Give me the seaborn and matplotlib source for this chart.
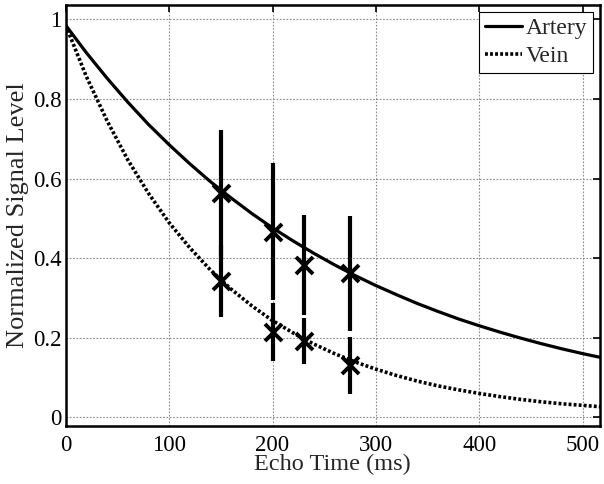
import matplotlib
matplotlib.use("Agg")
import matplotlib.pyplot as plt
import seaborn as sns
import pandas as pd

# Fitted decay curves
t_curve = [0, 20, 40, 60, 80, 100, 120, 140, 160, 180, 200, 220, 240, 260,
           280, 300, 320, 340, 360, 380, 400, 420, 440, 460, 480, 500, 520]
artery_curve = [0.985, 0.916, 0.852, 0.792, 0.736, 0.685, 0.637, 0.592, 0.551,
                0.512, 0.476, 0.443, 0.412, 0.383, 0.356, 0.331, 0.308, 0.286,
                0.266, 0.247, 0.230, 0.214, 0.199, 0.185, 0.172, 0.160, 0.149]
vein_curve = [0.985, 0.856, 0.745, 0.647, 0.563, 0.489, 0.426, 0.370, 0.322,
              0.280, 0.243, 0.212, 0.184, 0.160, 0.139, 0.121, 0.105, 0.091,
              0.079, 0.069, 0.060, 0.052, 0.045, 0.039, 0.034, 0.030, 0.026]

# Measured points with error bars
te = [150, 200, 230, 275]
artery_mean = [0.563, 0.466, 0.383, 0.362]
artery_err = [0.160, 0.172, 0.125, 0.145]
vein_mean = [0.343, 0.215, 0.192, 0.131]
vein_err = [0.090, 0.073, 0.058, 0.072]

x_ticks = [0, 100, 200, 300, 400, 500]
y_ticks = [0, 0.2, 0.4, 0.6, 0.8, 1.0]
y_tick_labels = ["0", "0.2", "0.4", "0.6", "0.8", "1"]

sns.set_style("white")
plt.rcParams["font.family"] = "serif"
plt.rcParams["font.serif"] = ["Liberation Serif", "Times New Roman", "DejaVu Serif"]

fig = plt.figure(figsize=(6.04, 4.84), dpi=100)
ax = fig.add_axes([0.1088, 0.1205, 0.8846, 0.8692])

curves = pd.DataFrame({"t": t_curve, "Artery": artery_curve, "Vein": vein_curve})

sns.lineplot(data=curves, x="t", y="Artery", ax=ax, color="black", lw=2.3,
             label="Artery", zorder=3)
sns.lineplot(data=curves, x="t", y="Vein", ax=ax, color="black", lw=2.6,
             linestyle=(0, (0.8, 0.6)), label="Vein", zorder=3)

ax.errorbar(te, artery_mean, yerr=artery_err, fmt="none", ecolor="black",
            elinewidth=3.0, capsize=0, zorder=4)
ax.errorbar(te, vein_mean, yerr=vein_err, fmt="none", ecolor="black",
            elinewidth=3.0, capsize=0, zorder=4)

pts = pd.DataFrame({"t": te + te, "y": artery_mean + vein_mean})
sns.scatterplot(data=pts, x="t", y="y", ax=ax, marker="x", s=150, color="black",
                linewidth=2.8, zorder=5, legend=False)

ax.set_xlim(0, 516.7)
ax.set_ylim(-0.021, 1.036)
ax.set_xticks(x_ticks)
ax.set_yticks(y_ticks)
ax.set_yticklabels(y_tick_labels)
ax.tick_params(axis="both", direction="in", length=5, width=1.2, labelsize=16.5,
               top=True, right=True, colors="black")
ax.tick_params(axis="x", pad=7)
ax.tick_params(axis="y", pad=3)
ax.grid(True, linestyle=(0, (1.5, 1.5)), color="#8a8a8a", lw=0.8)
for sp in ax.spines.values():
    sp.set_color("black")
    sp.set_linewidth(1.8)

ax.set_xlabel("Echo Time (ms)", fontsize=17.5, labelpad=-1.5)
ax.set_ylabel("Normalized Signal Level", fontsize=19, labelpad=3)

leg = ax.legend(loc="upper right", fontsize=17, frameon=True, fancybox=False,
                edgecolor="black", framealpha=1, borderaxespad=0.3,
                handlelength=1.55, handletextpad=0.15, borderpad=0.25,
                labelspacing=0.25)
leg.get_frame().set_linewidth(0.8)

fig.savefig("out.png", dpi=100)
